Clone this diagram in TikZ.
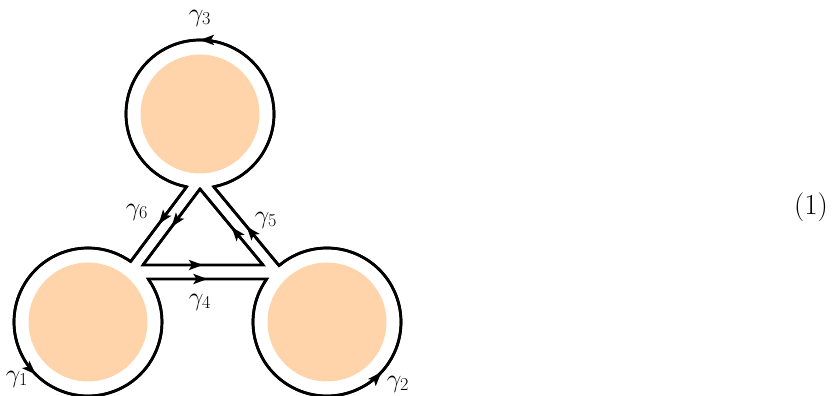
\RequirePackage{fix-cm}
\documentclass[tikz,border=0pt]{standalone}
\usepackage{tikz}
\usetikzlibrary{arrows.meta, decorations.markings, calc}
\definecolor{peach}{RGB}{255,212,170}
\tikzstyle{hole} = [fill=peach, draw=none]
\tikzstyle{contour} = [line width=2.7pt, line join=miter]
\tikzstyle{midarrow} = [contour, postaction={decorate}, decoration={markings, mark=at position 0.5 with {\arrow{Stealth[length=14pt, width=10pt, inset=3pt]}}}]
\tikzstyle{lbl} = [font=\fontsize{26}{30}\selectfont, inner sep=0pt]

\begin{document}
\begin{tikzpicture}[x=1pt, y=1pt]
  \useasboundingbox (0,0) rectangle (836,396);

  % centres of the holes
  \coordinate (T) at (200,282);
  \coordinate (BL) at (88,74);
  \coordinate (BR) at (327,74);

  % holes
  \fill[hole] (T) circle[radius=59.5];
  \fill[hole] (BL) circle[radius=59.5];
  \fill[hole] (BR) circle[radius=59.5];

  % where the channels meet the loops
  \coordinate (bl-a) at ($(BL)+(54.83:74)$);
  \coordinate (bl-b) at ($(BL)+(35.53:74)$);
  \coordinate (br-a) at ($(BR)+(144.47:74)$);
  \coordinate (br-b) at ($(BR)+(130.37:74)$);
  \coordinate (t-a) at ($(T)+(-79.34:74)$);
  \coordinate (t-b) at ($(T)+(259.6:74)$);

  % inner triangle
  \coordinate (A) at (200,207);
  \coordinate (B) at (143,131);
  \coordinate (C) at (263,131);

  % outer contour
  \draw[contour] (bl-a) arc[start angle=54.83, end angle=395.53, radius=74]
    -- (br-a) arc[start angle=144.47, end angle=490.37, radius=74]
    -- (t-a) arc[start angle=-79.34, end angle=259.6, radius=74] -- cycle;
  \draw[contour] (A) -- (B) -- (C) -- cycle;

  % arrows
  \draw[midarrow] (bl-a) arc[start angle=54.83, end angle=395.53, radius=74];
  \draw[midarrow] (br-a) arc[start angle=144.47, end angle=490.37, radius=74];
  \draw[midarrow] (t-a) arc[start angle=-79.34, end angle=259.6, radius=74];
  \draw[midarrow] (bl-b) -- (br-a);
  \draw[midarrow] (br-b) -- (t-a);
  \draw[midarrow] (t-b) -- (bl-a);
  \draw[midarrow] (A) -- (B);
  \draw[midarrow] (B) -- (C);
  \draw[midarrow] (C) -- (A);

  % labels
  \node[lbl] (g1) at (17,17) {$\gamma_1$};
  \node[lbl] (g2) at (398,12) {$\gamma_2$};
  \node[lbl] (g3) at (200,378) {$\gamma_3$};
  \node[lbl] (g4) at (200,94) {$\gamma_4$};
  \node[lbl] (g5) at (266,176) {$\gamma_5$};
  \node[lbl] (g6) at (137,184) {$\gamma_6$};
  \node[lbl, font=\fontsize{29}{34}\selectfont] (eqnum) at (811,189) {(1)};
\end{tikzpicture}
\end{document}
